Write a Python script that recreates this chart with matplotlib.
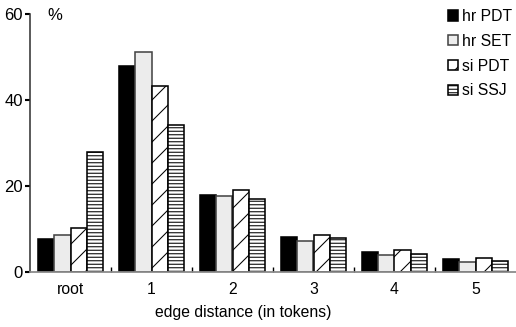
import matplotlib
matplotlib.use('Agg')
import matplotlib.pyplot as plt
import numpy as np

plt.rcParams['font.family'] = ['Liberation Sans', 'DejaVu Sans']
plt.rcParams['hatch.linewidth'] = 0.6

groups = ['root', '1', '2', '3', '4', '5']
series = ['hr PDT', 'hr SET', 'si PDT', 'si SSJ']
hr_pdt = [7.7, 47.8, 17.9, 8.2, 4.7, 3.0]
hr_set = [8.7, 51.1, 17.7, 7.2, 4.0, 2.4]
si_pdt = [10.2, 43.2, 19.1, 8.7, 5.2, 3.3]
si_ssj = [28.0, 34.2, 17.0, 7.8, 4.3, 2.5]

faces = ['black', '#ececec', 'white', 'white']
edges = ['black', '#444444', 'black', 'black']
hatches = [None, None, '//', '------']

dpi = 126
fig = plt.figure(figsize=(516 / dpi, 327 / dpi), dpi=dpi)
ax = fig.add_axes([30 / 516, 55 / 327, 486 / 516, 258 / 327])

x = np.arange(len(groups))
w = 0.2
for i, (vals, name) in enumerate(zip([hr_pdt, hr_set, si_pdt, si_ssj], series)):
    ax.bar(x + (i - 1.5) * w, vals, w, color=faces[i], edgecolor=edges[i],
           hatch=hatches[i], linewidth=0.9, label=name)

ax.set_xlim(-0.5, 5.5)
ax.set_ylim(0, 60)
ax.set_yticks([0, 20, 40, 60])
ax.set_xticks(x)
ax.set_xticklabels(groups)
ax.set_xticks(x[:-1] + 0.5, minor=True)
ax.tick_params(axis='x', which='major', length=0, labelsize=9, pad=6)
ax.tick_params(axis='x', which='minor', direction='in', length=3, width=0.8)
ax.tick_params(axis='y', direction='out', length=3, width=1.2, labelsize=9.5, pad=1)

for s in ['top', 'right']:
    ax.spines[s].set_visible(False)
ax.spines['left'].set_color('#333333')
ax.spines['bottom'].set_color('#888888')
ax.spines['left'].set_linewidth(0.9)
ax.spines['bottom'].set_linewidth(1.0)

ax.text(47 / 516, 311 / 327, '%', transform=fig.transFigure, fontsize=9.5, va='center')
fig.text(243 / 516, 15 / 327, 'edge distance (in tokens)', fontsize=9, ha='center', va='center')

ax.legend(loc='upper left', bbox_to_anchor=(448 / 516, 318 / 327),
          bbox_transform=fig.transFigure, frameon=False, fontsize=9,
          handlelength=0.65, handleheight=0.65, handletextpad=0.25,
          labelspacing=0.62, borderpad=0, borderaxespad=0)

fig.savefig('out.png', dpi=dpi)
